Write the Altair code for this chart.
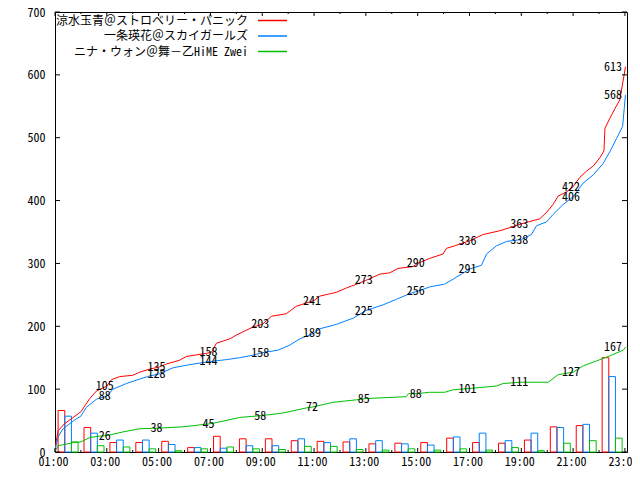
import altair as alt
import pandas as pd
import numpy as np

# ---------------- data ----------------
names = ["涼水玉青＠ストロベリー・パニック", "一条瑛花＠スカイガールズ", "ニナ・ウォン＠舞－乙HiME Zwei"]
colors = ["#ff0000", "#0080ff", "#00c000"]

# cumulative counts (time in hours, value)
red_t = [1.0, 1.03, 1.12, 1.37, 1.7, 2.0, 2.34, 2.6, 3.0, 3.18, 3.5, 4.0, 4.27, 4.66, 5.0, 5.3,
         5.81, 6.07, 6.85, 7.05, 7.23, 7.75, 8.0, 8.65, 9.0, 9.36, 9.93, 10.32, 11.0, 11.22, 11.86,
         12.25, 12.64, 13.0, 13.54, 13.92, 14.24, 14.82, 15.0, 15.46, 15.98, 16.11, 16.43, 17.0,
         17.53, 18.17, 18.56, 19.0, 19.45, 19.71, 19.97, 20.23, 20.42, 20.75, 21.0, 21.26, 21.52,
         21.78, 22.03, 22.19, 22.23, 22.42, 22.61, 22.8, 22.97, 23.02]
red_v = [0, 13, 34, 45, 55, 64, 85, 97, 105, 115, 120, 122, 127, 132, 135, 140,
         146, 152, 157, 159, 173, 180, 186, 199, 203, 216, 220, 232, 241, 248, 254,
         261, 267, 273, 283, 285, 292, 295, 300, 308, 315, 324, 328, 336,
         346, 352, 357, 363, 368, 371, 381, 394, 407, 414, 422, 437, 447,
         455, 468, 479, 515, 531, 546, 560, 600, 613]

blue_t = [1.0, 1.03, 1.12, 1.31, 1.57, 1.83, 2.0, 2.21, 2.6, 3.0, 3.24, 3.76, 4.27, 4.66, 5.0,
          5.56, 6.2, 7.0, 7.62, 8.13, 8.65, 9.0, 9.61, 10.06, 10.45, 11.0, 11.22, 11.86, 12.51,
          13.0, 13.66, 14.18, 14.7, 15.0, 15.5, 16.04, 16.37, 17.0, 17.46, 17.66, 18.04, 18.43,
          19.0, 19.39, 19.59, 19.97, 20.23, 20.62, 21.0, 21.39, 21.78, 22.16, 22.42, 22.68,
          22.91, 23.02]
blue_v = [0, 8, 24, 37, 45, 53, 57, 71, 84, 89, 100, 109, 116, 121, 124,
          134, 139, 144, 147, 150, 154, 158, 162, 170, 180, 189, 196, 203, 213,
          225, 234, 243, 252, 256, 263, 267, 275, 291, 297, 315, 328, 335,
          338, 346, 360, 366, 378, 394, 406, 428, 441, 459, 478, 499,
          518, 568]

green_t = [1.0, 1.03, 1.12, 1.37, 1.7, 2.0, 2.34, 2.66, 3.0, 3.63, 4.27, 5.0, 5.94, 7.0, 7.49,
           8.13, 9.0, 9.8, 10.69, 11.0, 11.73, 12.63, 13.0, 14.56, 14.65, 15.0, 15.46, 16.04,
           16.37, 17.0, 18.04, 18.3, 19.0, 20.04, 20.42, 21.0, 21.39, 21.91, 22.42, 22.93, 23.03]
green_v = [0, 3, 10, 12, 15, 16, 23, 25, 26, 32, 37, 38, 40, 45, 49,
           55, 58, 62, 70, 72, 79, 83, 85, 88, 93, 93, 95, 95,
           99, 101, 105, 109, 111, 111, 123, 127, 137, 145, 153, 162, 167]

# hourly counts (hour starting 01:00 ... 22:00)
hours = list(range(1, 23))
red_hourly = [66, 39, 15, 15, 17, 7, 25, 21, 21, 18, 17, 16, 13, 14, 15, 22, 15, 14, 19, 40, 42, 150]
blue_hourly = [57, 30, 19, 19, 12, 7, 6, 10, 10, 21, 15, 21, 18, 13, 11, 24, 30, 18, 30, 39, 44, 120]
green_hourly = [16, 10, 8, 5, 2, 5, 8, 5, 4, 9, 9, 4, 3, 5, 3, 5, 3, 7, 2, 14, 18, 22]

# point labels
label_hours = [3, 5, 7, 9, 11, 13, 15, 17, 19, 21]
red_labels = ["105", "135", "158", "203", "241", "273", "290", "336", "363", "422"]
blue_labels = ["88", "128", "144", "158", "189", "225", "256", "291", "338", "406"]
green_labels = ["26", "38", "45", "58", "72", "85", "88", "101", "111", "127"]
final_hour = 23
final_labels = ["613", "568", "167"]

# axis ticks
x_major = list(range(1, 24, 2))
x_minor = list(range(2, 23, 2))
y_ticks = list(range(0, 701, 100))

# ---------------- tables ----------------
series_t = [red_t, blue_t, green_t]
series_v = [red_v, blue_v, green_v]
series_h = [red_hourly, blue_hourly, green_hourly]
series_l = [red_labels, blue_labels, green_labels]

line_rows, bar_rows, lab_rows, fin_rows = [], [], [], []
BW = 0.257
for i, nm in enumerate(names):
    assert len(series_t[i]) == len(series_v[i])
    for t, v in zip(series_t[i], series_v[i]):
        line_rows.append({"t": t, "v": v, "name": nm})
    off = 0.12 + i * BW
    for h, c in zip(hours, series_h[i]):
        bar_rows.append({"x0": h + off, "x1": h + off + BW, "c": c, "name": nm})
    for h, txt in zip(label_hours, series_l[i]):
        pos = float(np.interp(h, series_t[i], series_v[i]))
        lab_rows.append({"t": h, "pos": pos, "txt": txt, "name": nm})
    fin_rows.append({"t": final_hour, "pos": series_v[i][-1], "txt": final_labels[i], "name": nm})

line_df = pd.DataFrame(line_rows)
bar_df = pd.DataFrame(bar_rows)
lab_df = pd.DataFrame(lab_rows)
fin_df = pd.DataFrame(fin_rows)
xmaj_df = pd.DataFrame({"h": x_major})
xmin_df = pd.DataFrame({"h": x_minor})
yt_df = pd.DataFrame({"v": y_ticks})

W, H = 572, 440
FONT = "Noto Sans Mono CJK JP, Noto Sans CJK JP, sans-serif"

xs = alt.Scale(domain=[1, 23.08], nice=False, zero=False)
ys = alt.Scale(domain=[0, 700], nice=False, zero=False)
cs = alt.Scale(domain=names, range=colors)

xaxis = alt.Axis(values=x_major, title=None, grid=False, ticks=False, domain=False,
                 labelExpr="(datum.value < 10 ? '0' : '') + datum.value + ':00'",
                 labelOffset=-2, labelPadding=4, labelFont=FONT, labelFontSize=12,
                 labelColor="black", labelFlush=False, labelOverlap=False)
yaxis = alt.Axis(values=y_ticks, title=None, grid=False, ticks=False, domain=False,
                 labelPadding=10, labelFont=FONT, labelFontSize=12, labelColor="black")


def X(f):
    return alt.X(f, scale=xs, axis=xaxis)


def Y(f):
    return alt.Y(f, scale=ys, axis=yaxis)


col = alt.Color("name:N", scale=cs, legend=None)

bars = alt.Chart(bar_df).mark_rect(filled=False, strokeWidth=1).encode(
    x=X("x0:Q"), x2="x1:Q", y=Y("c:Q"), y2=alt.datum(0), color=col)

lines = alt.Chart(line_df).mark_line(strokeWidth=1).encode(
    x=X("t:Q"), y=Y("v:Q"), color=col, detail="name:N")

labels = alt.Chart(lab_df).mark_text(
    font=FONT, fontSize=12, color="black", align="center", baseline="middle", dx=-2
).encode(x=X("t:Q"), y=Y("pos:Q"), text="txt:N")

finals = alt.Chart(fin_df).mark_text(
    font=FONT, fontSize=12, color="black", align="right", baseline="middle", dx=-3
).encode(x=X("t:Q"), y=Y("pos:Q"), text="txt:N")

# legend: one text + one sample line per series, rows stacked from the top
legend_layers = []
for i, (nm, c) in enumerate(zip(names, colors)):
    row_y = 8.5 + i * 15.5
    ldf = pd.DataFrame({"label": [nm]})
    legend_layers.append(
        alt.Chart(ldf).mark_text(font=FONT, fontSize=12, color="black", align="right",
                                 baseline="middle")
        .encode(x=alt.value(193), y=alt.value(row_y), text="label:N"))
    legend_layers.append(
        alt.Chart(ldf).mark_rule(strokeWidth=1.5, stroke=c, color=c)
        .encode(x=alt.value(203), x2=alt.value(232), y=alt.value(row_y)))

xt_b_maj = alt.Chart(xmaj_df).mark_rule(color="black").encode(
    x=X("h:Q"), y=alt.value(H), y2=alt.value(H - 4))
xt_t_maj = alt.Chart(xmaj_df).mark_rule(color="black").encode(
    x=X("h:Q"), y=alt.value(0), y2=alt.value(4))
xt_b_min = alt.Chart(xmin_df).mark_rule(color="black").encode(
    x=X("h:Q"), y=alt.value(H), y2=alt.value(H - 2))
xt_t_min = alt.Chart(xmin_df).mark_rule(color="black").encode(
    x=X("h:Q"), y=alt.value(0), y2=alt.value(2))
yt_l = alt.Chart(yt_df).mark_rule(color="black").encode(
    y=Y("v:Q"), x=alt.value(0), x2=alt.value(5))
yt_r = alt.Chart(yt_df).mark_rule(color="black").encode(
    y=Y("v:Q"), x=alt.value(W - 5), x2=alt.value(W))

chart = alt.layer(
    bars, lines, labels, finals, *legend_layers,
    xt_b_maj, xt_t_maj, xt_b_min, xt_t_min, yt_l, yt_r
).properties(
    width=W, height=H,
    padding={"left": 47, "top": 4, "right": 5, "bottom": 20},
    autosize=alt.AutoSizeParams(type="none"),
    background="white",
).configure_view(stroke="black", strokeWidth=1)

chart.save("out.html", embed_options={"renderer": "svg", "actions": False})
